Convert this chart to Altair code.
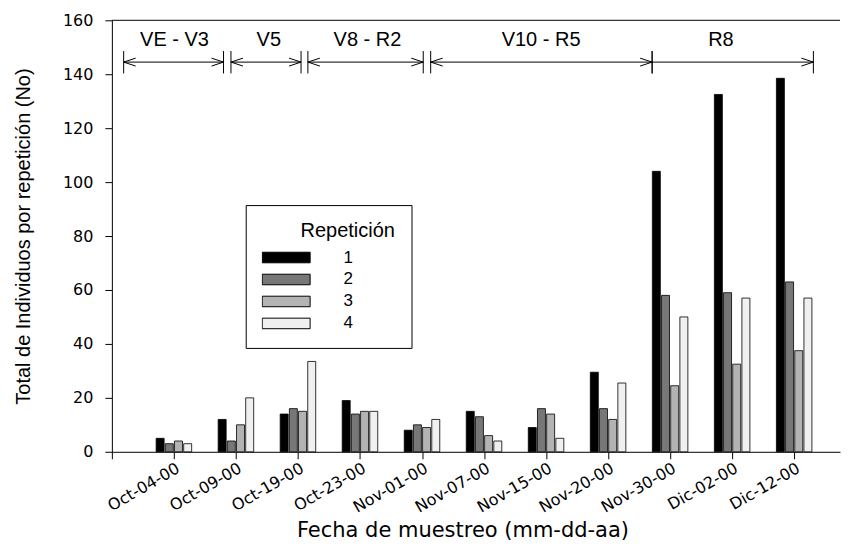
import altair as alt
import pandas as pd

# ---------------- data ----------------
dates = ["Oct-04-00", "Oct-09-00", "Oct-19-00", "Oct-23-00", "Nov-01-00",
         "Nov-07-00", "Nov-15-00", "Nov-20-00", "Nov-30-00", "Dic-02-00", "Dic-12-00"]
rep_names = ["1", "2", "3", "4"]
rep1 = [5, 12, 14, 19, 8, 15, 9, 29.5, 104, 132.5, 138.5]
rep2 = [3, 4, 16, 14, 10, 13, 16, 16, 58, 59, 63]
rep3 = [4, 10, 15, 15, 9, 6, 14, 12, 24.5, 32.5, 37.5]
rep4 = [3, 20, 33.5, 15, 12, 4, 5, 25.5, 50, 57, 57]
rep_colors = ["#000000", "#777777", "#b3b3b3", "#f0f0f0"]

y_ticks = [0, 20, 40, 60, 80, 100, 120, 140, 160]

phase_labels = ["VE - V3", "V5", "V8 - R2", "V10 - R5", "R8"]
phase_start = [0.19, 1.92, 3.16, 5.14, 8.71]
phase_end = [1.80, 3.05, 5.02, 8.71, 11.31]
phase_label_x = [1.01, 2.53, 4.12, 6.92, 9.82]
phase_left_arrow = [True, True, True, True, False]

# annotation heights (in y units)
ARROW_Y = 144.5
TICK_LO = 140.3
TICK_HI = 148.6
LABEL_Y = 152.7

# ---------------- tables ----------------
rows = []
for i, d in enumerate(dates):
    for r, series in zip(rep_names, [rep1, rep2, rep3, rep4]):
        rows.append({"fecha": d, "idx": i + 1, "rep": r, "valor": series[i]})
bars_df = pd.DataFrame(rows)

phases_df = pd.DataFrame({
    "label": phase_labels,
    "start": phase_start,
    "end": phase_end,
    "label_x": phase_label_x,
    "left_arrow": phase_left_arrow,
})
top_df = pd.DataFrame({"y": [y_ticks[-1]]})

PLOT_W = 729
X_MAX = PLOT_W / 62.1
x_scale = alt.Scale(domain=[0, X_MAX], nice=False, zero=False, padding=0)
y_scale = alt.Scale(domain=[0, y_ticks[-1]], nice=False, padding=0)

label_expr = "[" + ",".join(["''"] + ["'%s'" % d for d in dates]) + "][datum.value]"

X_TITLE = "Fecha de muestreo (mm-dd-aa)"
Y_TITLE = "Total de Individuos por repetición (No)"

x_axis = alt.Axis(
    values=list(range(0, len(dates) + 1)),
    labelExpr=label_expr,
    title=X_TITLE,
    labelAngle=330, labelAlign="right", labelBaseline="top",
    labelFont="DejaVu Sans", labelFontSize=16, labelColor="black",
    labelPadding=1, labelOverlap=False, labelFlush=False,
    tickColor="black", tickSize=7, domainColor="black", grid=False,
    titleFont="DejaVu Sans", titleFontSize=21, titleFontWeight="normal",
    titleColor="black", titleX=351, titleAlign="center", titlePadding=4,
)
y_axis = alt.Axis(
    values=y_ticks, title=Y_TITLE,
    labelFont="DejaVu Sans", labelFontSize=16, labelColor="black",
    labelPadding=12, tickSize=7, tickColor="black", domainColor="black",
    grid=False,
    titleFont="Liberation Sans", titleFontSize=20, titleFontWeight="normal",
    titleColor="black", titlePadding=28.5,
)

# legend title: a zero-width lead character keeps the no-break spaces that
# push the visible word to the right, as in the original box
LEGEND_TITLE = "\u200b" + "\u00a0" * 7 + "Repetición"
legend = alt.Legend(
    title=LEGEND_TITLE, orient="none", legendX=134, legendY=185,
    direction="vertical",
    symbolType="M-1,-0.22H1V0.22H-1Z", symbolSize=2304,
    symbolStrokeColor="black", symbolStrokeWidth=1, symbolOpacity=1,
    clipHeight=17,
    labelOffset=33, labelLimit=300,
    labelFont="Liberation Sans", labelFontSize=17, labelColor="black",
    titleFont="Liberation Sans", titleFontSize=20, titleFontWeight="normal",
    titleColor="black", titleAnchor="start", titlePadding=8, titleLimit=400,
    rowPadding=4, padding=16, strokeColor="black", fillColor="white",
)

bars = alt.Chart(bars_df).transform_calculate(
    xpos="datum.idx + (toNumber(datum.rep) - 2.5) * 0.148"
).mark_bar(size=8, stroke="black", strokeWidth=0.8).encode(
    x=alt.X("xpos:Q", scale=x_scale, axis=x_axis),
    y=alt.Y("valor:Q", scale=y_scale, axis=y_axis, stack=None),
    fill=alt.Fill("rep:N", scale=alt.Scale(domain=rep_names, range=rep_colors),
                  legend=legend),
)

top_rule = alt.Chart(top_df).mark_rule(color="black", strokeWidth=1).encode(
    y=alt.Y("y:Q", scale=y_scale, axis=y_axis)
)

base = alt.Chart(phases_df)
hline = base.mark_rule(color="black", strokeWidth=1).encode(
    x=alt.X("start:Q", scale=x_scale, axis=x_axis),
    x2="end:Q",
    y=alt.datum(ARROW_Y),
)
vticks = base.transform_fold(["start", "end"], as_=["lado", "pos"]).mark_rule(
    color="black", strokeWidth=1
).encode(
    x=alt.X("pos:Q", scale=x_scale, axis=x_axis),
    y=alt.datum(TICK_LO),
    y2=alt.datum(TICK_HI),
)
larrow = base.transform_filter("datum.left_arrow").mark_point(
    shape="M1,-0.33L0,0L1,0.33", filled=False, stroke="black",
    strokeWidth=1, size=576, opacity=1
).encode(
    x=alt.X("start:Q", scale=x_scale, axis=x_axis),
    y=alt.datum(ARROW_Y),
)
rarrow = base.mark_point(
    shape="M-1,-0.33L0,0L-1,0.33", filled=False, stroke="black",
    strokeWidth=1, size=576, opacity=1
).encode(
    x=alt.X("end:Q", scale=x_scale, axis=x_axis),
    y=alt.datum(ARROW_Y),
)
labels = base.mark_text(
    font="Liberation Sans", fontSize=20, color="black", baseline="middle", align="center"
).encode(
    x=alt.X("label_x:Q", scale=x_scale, axis=x_axis),
    y=alt.datum(LABEL_Y),
    text="label:N",
)

chart = alt.layer(bars, top_rule, hline, vticks, larrow, rarrow, labels).properties(
    width=PLOT_W, height=432,
    padding={"left": 5, "top": 4, "right": 0, "bottom": 0},
    background="white",
).configure_view(stroke=None)

chart.save("out.html", embed_options={"renderer": "svg", "actions": False})
